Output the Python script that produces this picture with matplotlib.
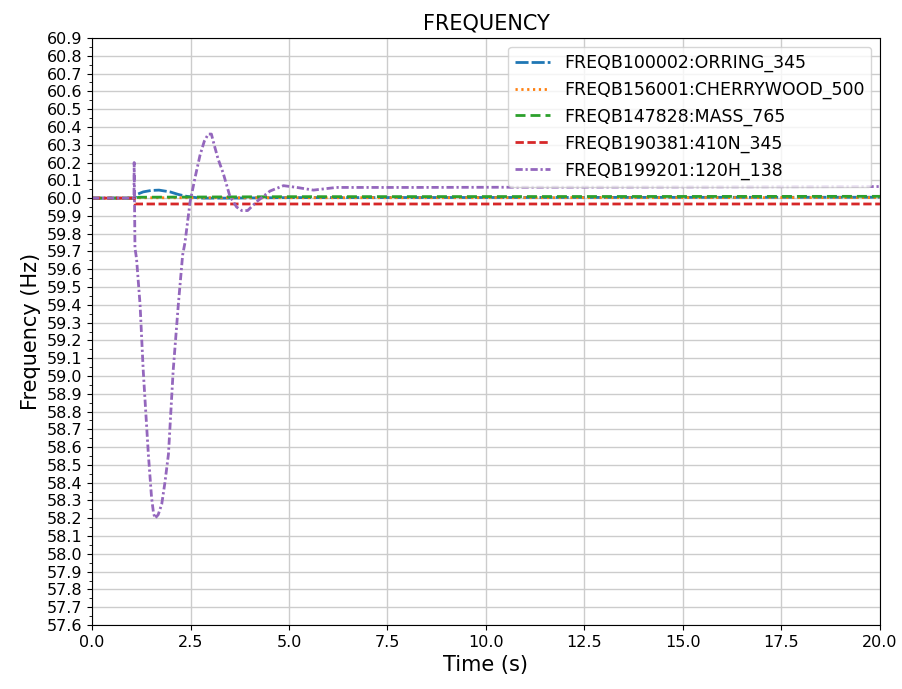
import numpy as np
import matplotlib
matplotlib.use('Agg')
import matplotlib.pyplot as plt
from matplotlib.ticker import MultipleLocator

# series data
t_orring = [0.0, 1.08, 1.13, 1.3, 1.5, 1.7, 1.98, 2.2, 2.4, 2.74, 3.5, 5.0, 20.0]
f_orring = [60.0, 60.0, 60.02, 60.035, 60.043, 60.045, 60.035, 60.02, 60.01, 60.0, 60.0, 60.003, 60.005]

t_cherry = [0.0, 1.08, 1.2, 20.0]
f_cherry = [60.0, 60.0, 60.002, 60.003]

t_mass = [0.0, 1.08, 1.2, 2.5, 5.0, 20.0]
f_mass = [60.0, 60.0, 60.005, 60.006, 60.008, 60.01]

t_410n = [0.0, 1.07, 1.09, 20.0]
f_410n = [60.0, 60.0, 59.967, 59.967]

t_120h = [0.0, 1.0, 1.065, 1.07, 1.09, 1.13, 1.22, 1.30, 1.43, 1.51, 1.56, 1.60,
          1.68, 1.77, 1.85, 1.94, 2.06, 2.19, 2.30, 2.36, 2.49, 2.62, 2.74, 2.85,
          2.95, 3.03, 3.10, 3.20, 3.33, 3.50, 3.67, 3.80, 3.95, 4.18, 4.52, 4.86,
          5.2, 5.62, 6.2, 8.0, 20.0]
f_120h = [60.0, 60.0, 60.0, 60.20, 59.72, 59.66, 59.40, 59.03, 58.56, 58.32, 58.23, 58.20,
          58.22, 58.28, 58.40, 58.56, 59.03, 59.40, 59.68, 59.75, 59.98, 60.12, 60.24, 60.32,
          60.36, 60.36, 60.30, 60.22, 60.14, 60.01, 59.95, 59.93, 59.93, 59.98, 60.04, 60.07,
          60.06, 60.045, 60.06, 60.06, 60.065]

labels = ['FREQB100002:ORRING_345', 'FREQB156001:CHERRYWOOD_500',
          'FREQB147828:MASS_765', 'FREQB190381:410N_345', 'FREQB199201:120H_138']

fig = plt.figure(figsize=(9.03, 6.89), dpi=100)
ax = fig.add_axes([0.1019, 0.0929, 0.8726, 0.8519])

lw = 2.0
ax.plot(t_orring, f_orring, color='#1f77b4', lw=lw, dashes=(4.7, 1.1), label=labels[0])
ax.plot(t_cherry, f_cherry, color='#ff7f0e', lw=lw, dashes=(0.8, 1.3), label=labels[1])
ax.plot(t_mass, f_mass, color='#2ca02c', lw=lw, dashes=(3.6, 1.8), label=labels[2])
ax.plot(t_410n, f_410n, color='#d62728', lw=lw, dashes=(3.0, 1.3), label=labels[3])
ax.plot(t_120h, f_120h, color='#9467bd', lw=lw, dashes=(2.6, 1.0, 0.8, 1.0), label=labels[4])

ax.set_xlim(0, 20)
ax.set_ylim(57.6, 60.9)
ax.xaxis.set_major_locator(MultipleLocator(2.5))
ax.yaxis.set_major_locator(MultipleLocator(0.1))
ax.yaxis.set_minor_locator(MultipleLocator(0.05))
ax.tick_params(labelsize=11.5)
ax.grid(True, color='#cccccc', lw=1)

ax.set_title('FREQUENCY', fontsize=15)
ax.set_xlabel('Time (s)', fontsize=15)
ax.set_ylabel('Frequency (Hz)', fontsize=15)
ax.legend(loc='upper right', fontsize=12.5)

fig.savefig('out.png', dpi=100)
